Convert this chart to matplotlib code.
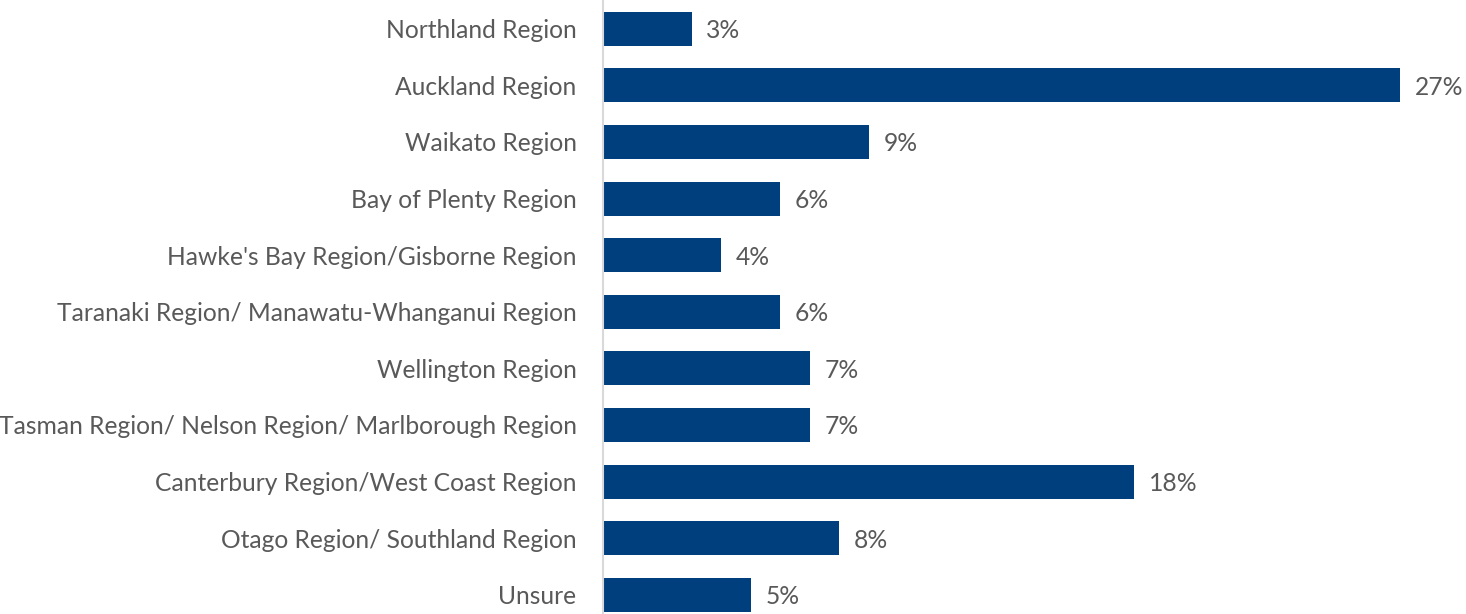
import matplotlib.pyplot as plt
from matplotlib.transforms import ScaledTranslation

plt.rcParams['font.family'] = ['Lato', 'DejaVu Sans']

# data
regions = [
    "Northland Region",
    "Auckland Region",
    "Waikato Region",
    "Bay of Plenty Region",
    "Hawke's Bay Region/Gisborne Region",
    "Taranaki Region/ Manawatu-Whanganui Region",
    "Wellington Region",
    "Tasman Region/ Nelson Region/ Marlborough Region",
    "Canterbury Region/West Coast Region",
    "Otago Region/ Southland Region",
    "Unsure",
]
shares = [3, 27, 9, 6, 4, 6, 7, 7, 18, 8, 5]

bar_color = "#003F7D"
text_color = "#595959"

fig = plt.figure(figsize=(14.66, 6.14), dpi=100)
ax = fig.add_axes([603 / 1466, -9 / 614, 29 * 29.52 / 1466, 622.5 / 614])

y = list(range(len(regions)))
ax.barh(y, shares, height=0.6, color=bar_color)
ax.set_ylim(len(regions) - 0.5, -0.5)
ax.set_xlim(0, 29)

# text sits a touch lower than bar centre in the original
nudge = ScaledTranslation(0, -2 / 100, fig.dpi_scale_trans)

for yi, v in zip(y, shares):
    ax.text(v + 0.5, yi, f"{v}%", va="center", ha="left",
            fontsize=17.7, color=text_color,
            transform=ax.transData + nudge)

ax.set_yticks(y)
ax.set_yticklabels(regions, fontsize=17.7, color=text_color)
for lbl in ax.get_yticklabels():
    lbl.set_transform(lbl.get_transform() + nudge)
ax.tick_params(axis="y", length=0, pad=19)
ax.set_xticks([])
for s in ["top", "right", "bottom"]:
    ax.spines[s].set_visible(False)
ax.spines["left"].set_color("#D9D9D9")
ax.spines["left"].set_linewidth(1.5)

fig.savefig("out.png", dpi=100)
